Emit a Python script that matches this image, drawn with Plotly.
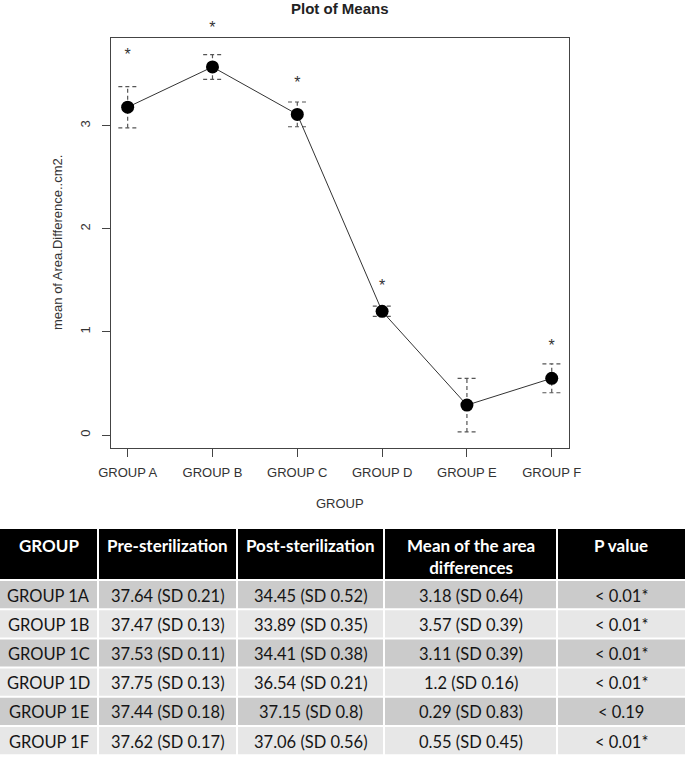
import plotly.graph_objects as go

# ---------------- data ----------------
groups = ["GROUP A", "GROUP B", "GROUP C", "GROUP D", "GROUP E", "GROUP F"]
means = [3.18, 3.57, 3.11, 1.20, 0.29, 0.55]
err = [0.20, 0.12, 0.12, 0.05, 0.26, 0.14]
star_y = [3.72, 3.99, 3.45, 1.48, None, 0.90]
star_txt = ["*", "*", "*", "*", "", "*"]

y_ticks = [0, 1, 2, 3]

tbl_header = ["GROUP", "Pre-sterilization", "Post-sterilization",
              "Mean of the area<br>differences", "P value"]
tbl_group = ["GROUP 1A", "GROUP 1B", "GROUP 1C", "GROUP 1D", "GROUP 1E", "GROUP 1F"]
tbl_pre = ["37.64 (SD 0.21)", "37.47 (SD 0.13)", "37.53 (SD 0.11)",
           "37.75 (SD 0.13)", "37.44 (SD 0.18)", "37.62 (SD 0.17)"]
tbl_post = ["34.45 (SD 0.52)", "33.89 (SD 0.35)", "34.41 (SD 0.38)",
            "36.54 (SD 0.21)", "37.15 (SD 0.8)", "37.06 (SD 0.56)"]
tbl_mean = ["3.18 (SD 0.64)", "3.57 (SD 0.39)", "3.11 (SD 0.39)",
            "1.2 (SD 0.16)", "0.29 (SD 0.83)", "0.55 (SD 0.45)"]
tbl_p = ["< 0.01*", "< 0.01*", "< 0.01*", "< 0.01*", "< 0.19", "< 0.01*"]

# ---------------- layout helpers ----------------
W, H = 685, 762
def px(x):
    return x / W
def py(y):
    return 1 - y / H

xs = list(range(len(groups)))
CAP = 0.11
AX = "#444444"
TXT = "#333333"

fig = go.Figure()

# error bars (dashed) built from the data
vx, vy, cx, cy = [], [], [], []
for i, (m, e) in enumerate(zip(means, err)):
    vx += [i, i, None]
    vy += [m - e, m + e, None]
    cx += [i - CAP, i + CAP, None, i - CAP, i + CAP, None]
    cy += [m + e, m + e, None, m - e, m - e, None]
fig.add_trace(go.Scatter(x=vx, y=vy, mode="lines", hoverinfo="skip",
                         line=dict(color="#555555", width=1.2, dash="4px,3px"),
                         showlegend=False))
fig.add_trace(go.Scatter(x=cx, y=cy, mode="lines", hoverinfo="skip",
                         line=dict(color="#555555", width=1.2, dash="4px,3px"),
                         showlegend=False))
# mean line + points
fig.add_trace(go.Scatter(x=xs, y=means, mode="lines+markers",
                         line=dict(color="#333333", width=1),
                         marker=dict(color="black", size=13),
                         showlegend=False))
# significance asterisks (on a hidden axis with the same scale, extended upward)
fig.add_trace(go.Scatter(x=xs, y=star_y, mode="text", text=star_txt, yaxis="y2",
                         textposition="middle center",
                         textfont=dict(family="Liberation Sans, Arial", size=16, color=TXT),
                         showlegend=False, hoverinfo="skip"))

# ---------------- table (drawn with shapes + text) ----------------
col_edges = [0, 98, 237, 384, 557, 685]
HDR_TOP, HDR_BOT = 529, 579
ROW0, ROW_PITCH, ROW_H = 581, 29.2, 27.2
GAP = 1
row_colors = ["#cbcbcb" if k % 2 == 0 else "#e7e7e7" for k in range(len(tbl_group))]
columns = [tbl_group, tbl_pre, tbl_post, tbl_mean, tbl_p]

shapes = []
annotations = []
for c in range(len(columns)):
    x0 = col_edges[c] + (GAP if c > 0 else 0)
    x1 = col_edges[c + 1] - (GAP if c < len(columns) - 1 else 0)
    xc = (col_edges[c] + col_edges[c + 1]) / 2
    shapes.append(dict(type="rect", xref="paper", yref="paper",
                       x0=px(x0), x1=px(x1), y0=py(HDR_BOT), y1=py(HDR_TOP),
                       fillcolor="black", line=dict(width=0), layer="below"))
    annotations.append(dict(text=f"<b>{tbl_header[c]}</b>", x=px(xc), y=py(HDR_TOP + 4),
                            xref="paper", yref="paper", xanchor="center", yanchor="top",
                            showarrow=False,
                            font=dict(family="Lato", size=17, color="white")))
    for r, val in enumerate(columns[c]):
        top = ROW0 + r * ROW_PITCH
        shapes.append(dict(type="rect", xref="paper", yref="paper",
                           x0=px(x0), x1=px(x1), y0=py(top + ROW_H), y1=py(top),
                           fillcolor=row_colors[r], line=dict(width=0), layer="below"))
        annotations.append(dict(text=val, x=px(xc), y=py(top + ROW_H / 2 + 1),
                                xref="paper", yref="paper", xanchor="center",
                                yanchor="middle", showarrow=False,
                                font=dict(family="Lato", size=16.5, color="#151515")))

annotations += [
    dict(text="<b>Plot of Means</b>", x=px(340), y=py(8), xref="paper", yref="paper",
         xanchor="center", yanchor="middle",
         showarrow=False, font=dict(size=15, color="#222222")),
    dict(text="mean of Area.Difference..cm2.", x=px(57), y=py(243),
         xref="paper", yref="paper", xanchor="center", yanchor="middle",
         textangle=-90, showarrow=False, font=dict(size=13, color=TXT)),
    dict(text="GROUP", x=px(340), y=py(503), xref="paper", yref="paper",
         xanchor="center", yanchor="middle",
         showarrow=False, font=dict(size=13, color=TXT)),
]

fig.update_layout(
    width=W, height=H,
    margin=dict(l=0, r=0, t=0, b=0, autoexpand=False),
    paper_bgcolor="white", plot_bgcolor="rgba(0,0,0,0)",
    font=dict(family="Liberation Sans, Arial", color=TXT, size=13),
    xaxis=dict(domain=[px(110.7), px(568.7)], range=[-0.2, 5.2], automargin=False,
               tickvals=xs, ticktext=groups, ticks="outside", ticklen=8,
               tickcolor=AX, showline=True, mirror=True, linecolor=AX,
               linewidth=1.3, showgrid=False, zeroline=False,
               tickfont=dict(size=13, color=TXT), ticklabelstandoff=4),
    yaxis=dict(domain=[py(448), py(38.3)], range=[-0.126, 3.848], automargin=False,
               tickvals=y_ticks, ticks="outside", ticklen=8, tickangle=-90,
               tickcolor=AX, showline=True, mirror=True, linecolor=AX,
               linewidth=1.3, showgrid=False, zeroline=False,
               tickfont=dict(size=13, color=TXT), ticklabelstandoff=6),
    yaxis2=dict(domain=[py(453), py(15)], range=[-0.126, 4.122], visible=False,
                automargin=False, anchor="x", showgrid=False, zeroline=False),
    shapes=shapes,
    annotations=annotations,
)

fig.write_html("out.html", config={"displayModeBar": False},
               post_script="document.body.style.margin='0px';document.body.style.overflow='hidden';")
